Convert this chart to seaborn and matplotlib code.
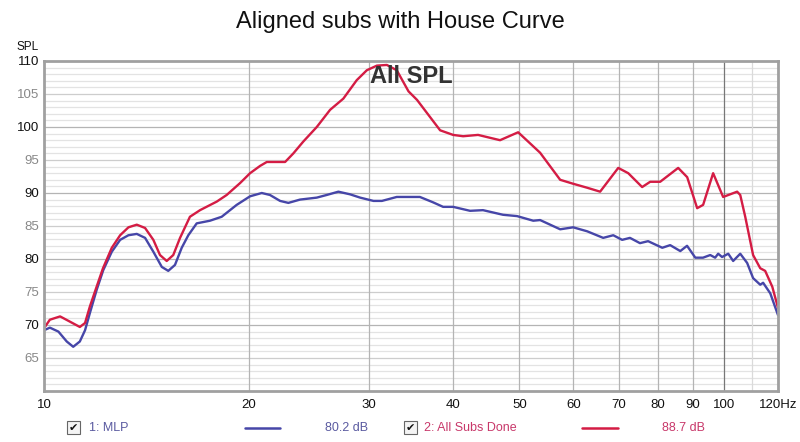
import numpy as np
import pandas as pd
import seaborn as sns
import matplotlib.pyplot as plt
from matplotlib.patches import Rectangle
from matplotlib.ticker import FixedLocator, NullFormatter

# Frequency (Hz) / SPL (dB)
mlp_freq = [10.0, 10.2, 10.5, 10.8, 11.04, 11.29, 11.49, 11.68, 11.95, 12.22,
            12.58, 12.94, 13.31, 13.69, 14.08, 14.48, 14.90, 15.23, 15.58, 15.94,
            16.30, 16.77, 17.54, 18.25, 19.20, 20.09, 20.90, 21.49, 22.24, 22.87,
            23.79, 25.18, 26.04, 27.09, 28.18, 29.16, 30.51, 31.39, 33.01, 34.35,
            35.7, 37.3, 38.62, 39.95, 42.31, 44.2, 47.3, 49.6, 52.4, 53.63,
            57.40, 59.98, 62.88, 66.4, 68.7, 70.8, 72.7, 75.2, 77.3, 81.1,
            83.3, 86.2, 88.2, 90.7, 93.1, 95.4, 97.0, 98.0, 99.3, 101.4,
            103.1, 105.6, 108.1, 110.3, 113.0, 114.1, 116.9, 120.0]
mlp_spl = [69.2, 69.6, 69.0, 67.5, 66.7, 67.5, 69.2, 71.8, 75.3, 78.3,
           81.1, 82.9, 83.6, 83.8, 83.2, 81.1, 78.8, 78.2, 79.1, 81.7,
           83.6, 85.4, 85.8, 86.4, 88.2, 89.5, 90.0, 89.7, 88.8, 88.5,
           89.0, 89.3, 89.7, 90.2, 89.8, 89.3, 88.8, 88.8, 89.4, 89.4,
           89.4, 88.6, 87.9, 87.9, 87.3, 87.4, 86.7, 86.5, 85.8, 85.9,
           84.5, 84.8, 84.2, 83.2, 83.6, 82.9, 83.2, 82.4, 82.7, 81.7,
           82.1, 81.2, 82.0, 80.2, 80.2, 80.6, 80.2, 80.8, 80.3, 80.8,
           79.7, 80.8, 79.4, 77.1, 76.1, 76.4, 74.8, 71.5]

subs_freq = [10.0, 10.2, 10.56, 10.92, 11.29, 11.49, 11.68, 11.95, 12.21, 12.58,
             12.94, 13.31, 13.69, 14.08, 14.48, 14.81, 15.15, 15.49, 15.85, 16.39,
             16.96, 17.95, 18.56, 19.42, 20.09, 20.78, 21.26, 21.99, 22.62, 23.26,
             24.06, 25.18, 26.34, 27.55, 28.83, 29.83, 30.86, 31.92, 33.01, 34.35,
             35.36, 38.23, 39.95, 41.33, 43.47, 46.83, 49.79, 53.63, 57.40, 59.98,
             62.88, 65.71, 69.87, 72.28, 75.76, 77.85, 80.53, 85.59, 88.24, 91.27,
             93.13, 96.34, 99.66, 104.5, 105.6, 107.4, 110.3, 113.0, 114.9, 117.7,
             120.0]
subs_spl = [69.5, 70.8, 71.3, 70.5, 69.7, 70.3, 72.8, 75.8, 78.6, 81.7,
            83.6, 84.8, 85.2, 84.7, 82.9, 80.6, 79.7, 80.6, 83.2, 86.4,
            87.4, 88.7, 89.7, 91.5, 93.0, 94.1, 94.7, 94.7, 94.7, 96.0,
            97.8, 100.0, 102.6, 104.3, 107.1, 108.6, 109.3, 109.4, 108.6, 105.4,
            104.1, 99.5, 98.8, 98.6, 98.8, 98.0, 99.2, 96.1, 92.0, 91.4,
            90.8, 90.2, 93.8, 93.0, 90.9, 91.7, 91.7, 93.8, 92.4, 87.7,
            88.2, 93.0, 89.4, 90.2, 89.7, 86.4, 80.6, 78.6, 78.2, 75.8,
            72.6]

series_names = ['1: MLP', '2: All Subs Done']
series_levels = ['80.2 dB', '88.7 dB']
x_ticks = [10, 20, 30, 40, 50, 60, 70, 80, 90, 100, 120]
x_labels = ['10', '20', '30', '40', '50', '60', '70', '80', '90', '100', '120Hz']

df = pd.concat([
    pd.DataFrame({'freq': mlp_freq, 'spl': mlp_spl, 'trace': series_names[0]}),
    pd.DataFrame({'freq': subs_freq, 'spl': subs_spl, 'trace': series_names[1]}),
])

sns.set_style('white')
plt.rcParams['font.family'] = ['Liberation Sans', 'DejaVu Sans']

line_colors = ['#4646a8', '#d41c44']
text_colors = ['#5a5aa0', '#c8386a']

fig = plt.figure(figsize=(8, 4.42), dpi=100)
ax = fig.add_axes([0.055, 0.1154, 0.9175, 0.7466])

sns.lineplot(data=df, x='freq', y='spl', hue='trace', palette=line_colors,
             linewidth=1.7, ax=ax, legend=False, sort=False)

ax.set_xscale('log')
ax.set_xlim(10, 120)
ax.set_ylim(60, 110)

# grid: 1 dB minor lines, darker every 5 and 10 dB
for v in range(61, 110):
    if v % 10 == 0:
        c = '#b4b4b4'
    elif v % 5 == 0:
        c = '#cdcdcd'
    else:
        c = '#e3e3e3'
    ax.axhline(v, color=c, linewidth=0.9, zorder=0)
for f in [20, 30, 40, 50, 60, 70, 80, 90, 110, 120]:
    ax.axvline(f, color='#dadada' if f == 110 else '#b4b4b4', linewidth=0.9, zorder=0)
ax.axvline(100, color='#777777', linewidth=0.9, zorder=0)

ax.xaxis.set_major_locator(FixedLocator(x_ticks))
ax.xaxis.set_minor_formatter(NullFormatter())
ax.set_xticks(x_ticks)
ax.set_xticklabels(x_labels)
ax.set_yticks(range(65, 111, 5))
ax.tick_params(axis='both', length=0, labelsize=9.5, colors='#111111')
ax.tick_params(axis='x', pad=6)
for lab, v in zip(ax.get_yticklabels(), range(65, 111, 5)):
    lab.set_color('#111111' if v % 10 == 0 else '#888888')
ax.set_xlabel('')
ax.set_ylabel('')

for s in ax.spines.values():
    s.set_color('#a0a0a0')
    s.set_linewidth(2)

ax.text(0.5, 0.988, 'All SPL', transform=ax.transAxes, ha='center', va='top',
        fontsize=17, fontweight='bold', color='#333333')

fig.text(0.5, 0.95, 'Aligned subs with House Curve', ha='center', va='center',
         fontsize=17, color='#111111')
fig.text(0.021, 0.894, 'SPL', ha='left', va='center', fontsize=8.5, color='#111111')

# legend row at the bottom
rows = [(0.084, 0.111, 0.306, 0.406), (0.505, 0.530, 0.728, 0.827)]
for i, (bx, tx, lx, vx) in enumerate(rows):
    fig.patches.append(Rectangle((bx, 0.017), 0.016, 0.03, transform=fig.transFigure,
                                 facecolor='#f4f4f4', edgecolor='#666666', linewidth=0.8))
    fig.text(bx + 0.008, 0.032, '\u2714', ha='center', va='center', fontsize=8,
             color='#111111', family=['DejaVu Sans'])
    fig.text(tx, 0.032, series_names[i], ha='left', va='center', fontsize=9,
             color=text_colors[i])
    fig.lines.append(plt.Line2D([lx, lx + 0.044], [0.032, 0.032], transform=fig.transFigure,
                                color=line_colors[i], linewidth=1.8))
    fig.text(vx, 0.032, series_levels[i], ha='left', va='center', fontsize=9,
             color=text_colors[i])

fig.savefig('out.png', dpi=100)
